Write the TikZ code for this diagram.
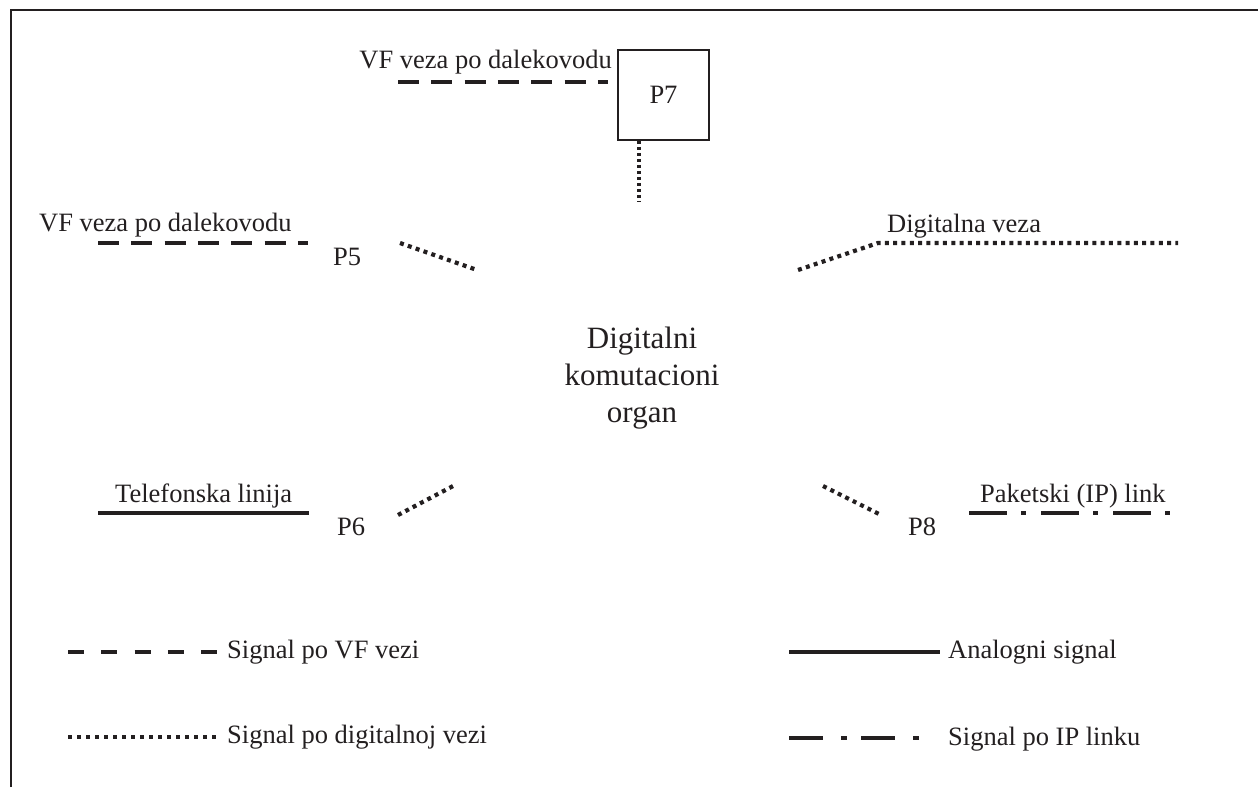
\documentclass[tikz,border=0pt]{standalone}
\usepackage{fontspec}
\setmainfont{Liberation Serif}
\definecolor{ink}{RGB}{35,31,32}
\begin{document}
\begin{tikzpicture}[x=1pt,y=-1pt,
  lbl/.style={font=\fontsize{26.5}{32}\selectfont, inner sep=0pt, text=ink},
  vfline/.style={draw=ink, line width=4.6pt, dash pattern=on 21pt off 12.3pt},
  vfkey/.style={draw=ink, line width=4.6pt, dash pattern=on 16pt off 17.3pt},
  digline/.style={draw=ink, line width=4.2pt, dash pattern=on 4pt off 4.3pt},
  digvert/.style={draw=ink, line width=3.6pt, dash pattern=on 3.5pt off 2.5pt},
  digkey/.style={draw=ink, line width=3.8pt, dash pattern=on 4pt off 5pt},
  analine/.style={draw=ink, line width=4.6pt},
  ipline/.style={draw=ink, line width=4.6pt, dash pattern=on 38pt off 14pt on 5pt off 15pt},
  ipkey/.style={draw=ink, line width=4.6pt, dash pattern=on 34pt off 18pt on 6pt off 14pt}]
\useasboundingbox (0,0) rectangle (1258,787);

% frame
\draw[ink, line width=2.4pt] (11,787) -- (11,10) -- (1258,10);

% switching unit
\node[font=\fontsize{31}{37}\selectfont, align=center, inner sep=0pt, text=ink]
  (dko) at (642,377.7) {Digitalni\\komutacioni\\organ};

% P7
\node[lbl, draw=ink, line width=1.6pt, minimum width=91pt, minimum height=90pt] (p7) at (663.5,95) {P7};
\node[lbl, anchor=base east] (p7t) at (612,68) {VF veza po dalekovodu};
\coordinate (p7a) at (398,82);
\coordinate (p7b) at (608,82);
\draw[vfline] (p7a) -- (p7b);
\coordinate (p7d) at (639,202);
\draw[digvert] (p7.south -| p7d) -- (p7d);

% P5
\node[lbl, anchor=base west] (p5t) at (39,231) {VF veza po dalekovodu};
\node[lbl, anchor=base west] (p5) at (333,265) {P5};
\coordinate (p5a) at (98,243);
\coordinate (p5b) at (308,243);
\draw[vfline] (p5a) -- (p5b);
\coordinate (p5c) at (400,243);
\coordinate (p5d) at (477,270);
\draw[digline] (p5c) -- (p5d);

% digital link
\node[lbl, anchor=base west] (dvt) at (887,232) {Digitalna veza};
\coordinate (dva) at (798,270);
\coordinate (dvb) at (878,243);
\coordinate (dvc) at (1178,243);
\draw[digline] (dva) -- (dvb) -- (dvc);

% P6
\node[lbl, anchor=base west] (p6t) at (115,502) {Telefonska linija};
\node[lbl, anchor=base west] (p6) at (337,535) {P6};
\coordinate (p6a) at (98,513);
\coordinate (p6b) at (309,513);
\draw[analine] (p6a) -- (p6b);
\coordinate (p6c) at (398,515);
\coordinate (p6d) at (455,485);
\draw[digline] (p6c) -- (p6d);

% P8
\node[lbl, anchor=base west] (p8) at (908,535) {P8};
\node[lbl, anchor=base west] (p8t) at (980,502) {Paketski (IP) link};
\coordinate (p8c) at (823,486);
\coordinate (p8d) at (879,514);
\draw[digline] (p8c) -- (p8d);
\coordinate (p8a) at (969,513);
\coordinate (p8b) at (1171,513);
\draw[ipline] (p8a) -- (p8b);

% legend
\node[lbl, anchor=base west] (k1) at (227,658) {Signal po VF vezi};
\coordinate (k1a) at (68,652);
\draw[vfkey] (k1a) -- (k1a -| 218,0);
\node[lbl, anchor=base west] (k2) at (227,743) {Signal po digitalnoj vezi};
\coordinate (k2a) at (68,737);
\draw[digkey] (k2a) -- (k2a -| 217,0);
\node[lbl, anchor=base west] (k3) at (948,658) {Analogni signal};
\coordinate (k3a) at (789,652);
\draw[analine] (k3a) -- (k3a -| 940,0);
\node[lbl, anchor=base west] (k4) at (948,745) {Signal po IP linku};
\coordinate (k4a) at (789,738);
\draw[ipkey] (k4a) -- (k4a -| 920,0);
\end{tikzpicture}
\end{document}
